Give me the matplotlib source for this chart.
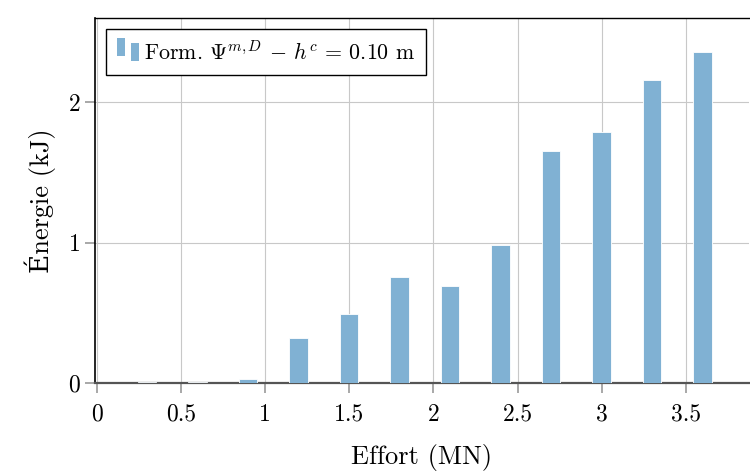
import matplotlib
matplotlib.use("Agg")
import matplotlib.pyplot as plt
from matplotlib.legend_handler import HandlerBase
from matplotlib.patches import Rectangle

plt.rcParams['font.family'] = ['cmr10', 'DejaVu Serif']
plt.rcParams['mathtext.fontset'] = 'cm'
plt.rcParams['axes.formatter.use_mathtext'] = True

efforts = [0.3, 0.6, 0.9, 1.2, 1.5, 1.8, 2.1, 2.4, 2.7, 3.0, 3.3, 3.6]
energies = [0.005, 0.01, 0.03, 0.32, 0.49, 0.755, 0.69, 0.98, 1.65, 1.785, 2.155, 2.36]
xticks = [0, 0.5, 1, 1.5, 2, 2.5, 3, 3.5]
xticklabels = ['0', '0.5', '1', '1.5', '2', '2.5', '3', '3.5']
yticks = [0, 1, 2]
label = r'Form. $\Psi^{m,D}$ $-$ $h^c$ = 0.10 m'

color = '#80b1d3'

fig = plt.figure(figsize=(7.5, 4.75), dpi=100)
ax = fig.add_axes([95/750, 92/475, 654/750, 365/475])

ax.bar(efforts, energies, width=0.11, color=color, edgecolor='white', linewidth=0.6, zorder=3, label=label)

ax.set_xlim(-0.01, 3.875)
ax.set_ylim(0, 2.6)
ax.set_xticks(xticks)
ax.set_xticklabels(xticklabels)
ax.set_yticks(yticks)
ax.grid(True, color='#c8c8c8', linewidth=0.8, zorder=0)
ax.tick_params(axis='both', direction='out', length=7, color='#999999', labelsize=17, width=1.2)
ax.tick_params(axis='x', pad=8)
ax.spines['left'].set_color('black')
ax.spines['left'].set_linewidth(1.2)
ax.spines['bottom'].set_color('#555555')
ax.spines['bottom'].set_linewidth(1.6)
ax.spines['top'].set_color('black')
ax.spines['top'].set_linewidth(1.0)
ax.spines['right'].set_visible(False)
ax.set_axisbelow(True)

ax.set_xlabel('Effort (MN)', fontsize=19, labelpad=13)
ax.set_ylabel('Énergie (kJ)', fontsize=19, labelpad=8)


class TwoBars(HandlerBase):
    def create_artists(self, legend, orig_handle, xdescent, ydescent, width, height, fontsize, trans):
        w = width * 0.32
        r1 = Rectangle((-xdescent + 0.02 * width, -ydescent + 0.25 * height), w, height * 1.2,
                       facecolor=color, edgecolor='none', transform=trans)
        r2 = Rectangle((-xdescent + 0.6 * width, -ydescent - 0.05 * height), w, height * 1.15,
                       facecolor=color, edgecolor='none', transform=trans)
        return [r1, r2]


handles, labels = ax.get_legend_handles_labels()
leg = ax.legend(handles, labels, loc='upper left', fontsize=15.8, handler_map={type(handles[0]): TwoBars()},
                handlelength=1.1, handletextpad=0.15, fancybox=False, edgecolor='black', framealpha=1,
                borderaxespad=0.5, borderpad=0.5)
leg.get_frame().set_linewidth(1.0)

fig.savefig('out.png', dpi=100)
